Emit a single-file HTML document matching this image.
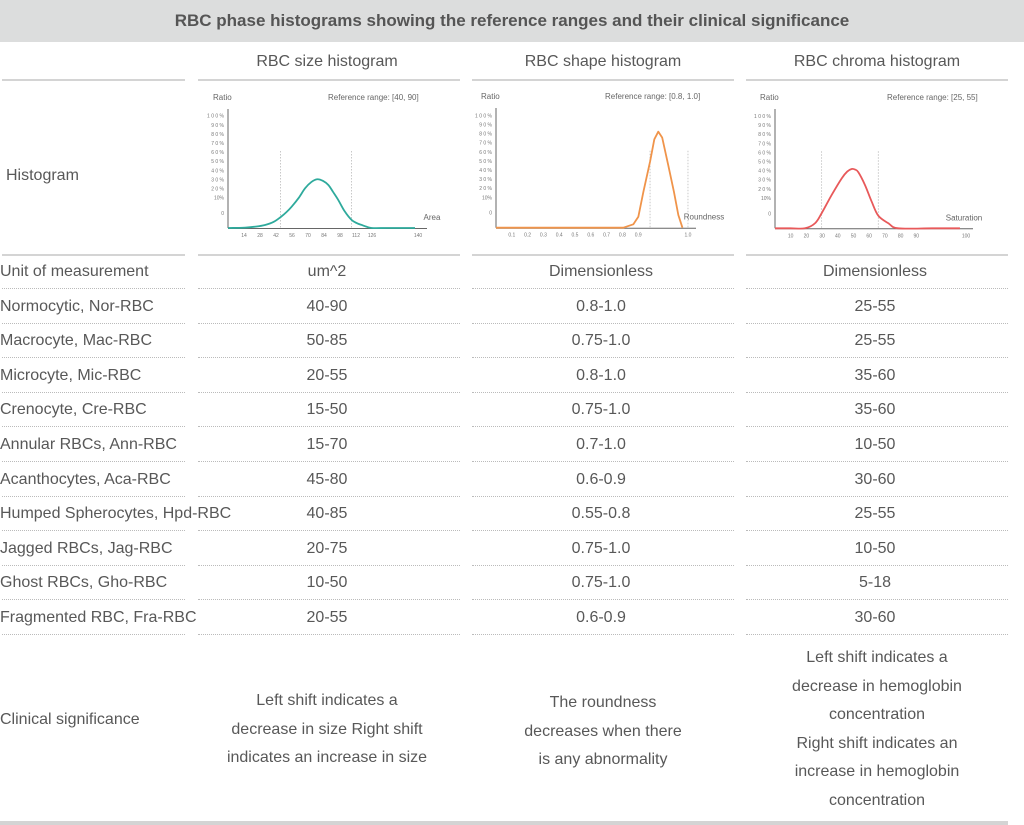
<!DOCTYPE html>
<html><head><meta charset="utf-8">
<style>
body{margin:0;background:#fff;}
#page{position:relative;width:1024px;height:825px;overflow:hidden;font-family:"Liberation Sans",sans-serif;color:#585858;}
.t{position:absolute;font-size:16px;white-space:nowrap;line-height:20px;}
.c{text-align:center;}
.rule{position:absolute;height:0;border-top:1px dotted #bbb;}
.solid{position:absolute;height:2px;background:#d4d4d4;}
.clin{position:absolute;font-size:16px;text-align:center;line-height:28.6px;}
</style></head><body>
<div id="page">
<div style="position:absolute;left:0;top:0;width:1024px;height:42px;background:#dcdddd;"></div>
<div class="t c" style="left:0;top:11px;width:1024px;font-size:17px;font-weight:bold;color:#555;">RBC phase histograms showing the reference ranges and their clinical significance</div>

<div class="t c" style="left:196px;top:52px;width:262px;font-size:16px;">RBC size histogram</div>
<div class="t c" style="left:472px;top:52px;width:262px;font-size:16px;">RBC shape histogram</div>
<div class="t c" style="left:746px;top:52px;width:262px;font-size:16px;">RBC chroma histogram</div>

<div class="solid" style="left:2px;top:79px;width:183px;"></div>
<div class="solid" style="left:198px;top:79px;width:262px;"></div>
<div class="solid" style="left:472px;top:79px;width:262px;"></div>
<div class="solid" style="left:746px;top:79px;width:262px;"></div>

<div class="t" style="left:6px;top:166px;">Histogram</div>

<div class="solid" style="left:2px;top:254px;width:183px;"></div>
<div class="solid" style="left:198px;top:254px;width:262px;"></div>
<div class="solid" style="left:472px;top:254px;width:262px;"></div>
<div class="solid" style="left:746px;top:254px;width:262px;"></div>

<div id="rows"></div>

<div class="t" style="left:0;top:710px;">Clinical significance</div>
<div class="clin" style="left:196px;top:687px;width:262px;">Left shift indicates a<br>decrease in size Right shift<br>indicates an increase in size</div>
<div class="clin" style="left:472px;top:689px;width:262px;">The roundness<br>decreases when there<br>is any abnormality</div>
<div class="clin" style="left:746px;top:644px;width:262px;">Left shift indicates a<br>decrease in hemoglobin<br>concentration<br>Right shift indicates an<br>increase in hemoglobin<br>concentration</div>
<div style="position:absolute;left:0;top:821px;width:1008px;height:4px;background:#d4d4d4;"></div>

<svg id="charts" width="1024" height="825" style="position:absolute;left:0;top:0;" font-family="Liberation Sans, sans-serif"></svg>
</div>
<script>
// ---- table data ----
const rowLabels=["Unit of measurement","Normocytic, Nor-RBC","Macrocyte, Mac-RBC","Microcyte, Mic-RBC","Crenocyte, Cre-RBC","Annular RBCs, Ann-RBC","Acanthocytes, Aca-RBC","Humped Spherocytes, Hpd-RBC","Jagged RBCs, Jag-RBC","Ghost RBCs, Gho-RBC","Fragmented RBC, Fra-RBC"];
const sizeVals=["um^2","40-90","50-85","20-55","15-50","15-70","45-80","40-85","20-75","10-50","20-55"];
const shapeVals=["Dimensionless","0.8-1.0","0.75-1.0","0.8-1.0","0.75-1.0","0.7-1.0","0.6-0.9","0.55-0.8","0.75-1.0","0.75-1.0","0.6-0.9"];
const chromaVals=["Dimensionless","25-55","25-55","35-60","35-60","10-50","30-60","25-55","10-50","5-18","30-60"];

// ---- chart data ----
const sizeX=[0,8,15,24,32.4,40,46.4,51,55.7,62,67.4,73,78.1,83,87.8,92,96.5,102,108.2,113,117,121,125.7,140,163.6];
const sizeY=[0,0.1,0.3,1.2,2.7,5.5,10,14,19,27,35.3,41,43.4,42,38.3,32,24.9,15,7.1,4.2,2.7,1.2,0,0,0];
const sizeTicks=[14,28,42,56,70,84,98,112,126];
const sizeRef=[46,108];
const shapeX=[0,0.806,0.869,0.901,0.933,0.975,1.002,1.027,1.052,1.090,1.126,1.154,1.180];
const shapeY=[0,0,3,9.8,32.1,58.8,78.7,85.5,80.2,55.8,32.1,11.3,0];
const shapeTicks=[0.1,0.2,0.3,0.4,0.5,0.6,0.7,0.8,0.9];
const shapeRef=[0.975,1.215];
const chromaX=[0,10,19.1,25.5,29.7,36.1,42.5,46,48.8,51,53.1,57.3,61.6,65.8,72.2,78.5,100,117.8];
const chromaY=[0,0,0,4.5,13.4,29.7,44.5,50.5,52.8,52.3,49.9,38.6,23.7,11.2,4.5,0,0,0];
const chromaTicks=[10,20,30,40,50,60,70,80,90];
const chromaRef=[29.7,65.8];
const yTickLabels=["1 0 0 %","9 0 %","8 0 %","7 0 %","6 0 %","5 0 %","4 0 %","3 0 %","2 0 %","10%","0"];
const yTickVals=[100,90,80,70,60,50,40,30,20,10,0];

// rows
const rowsEl=document.getElementById('rows');
const colL=[198,472,746];
rowLabels.forEach((lab,i)=>{
  const cy=272+i*34.6;
  const d=document.createElement('div');d.className='t';d.style.left='0px';d.style.top=(cy-10)+'px';d.textContent=lab;
  
  
  rowsEl.appendChild(d);
  [sizeVals,shapeVals,chromaVals].forEach((arr,j)=>{
    const e=document.createElement('div');e.className='t c';e.style.left=(colL[j]-2)+'px';e.style.width='262px';e.style.top=(cy-10)+'px';e.textContent=arr[i];
    
    
    rowsEl.appendChild(e);
  });
  [[2,183]].concat(colL.map(x=>[x,262])).forEach(p=>{
    const r=document.createElement('div');r.className='rule';r.style.left=p[0]+'px';r.style.width=p[1]+'px';r.style.top=(cy+16)+'px';
    
    
    rowsEl.appendChild(r);
  });
});

const svg=document.getElementById('charts');const NS='http://www.w3.org/2000/svg';
function mk(tag,attrs,parent,name){const e=document.createElementNS(NS,tag);for(const k in attrs)e.setAttribute(k,attrs[k]);
  
  
  parent.appendChild(e);return e;}
function smooth(pts){let d='M'+pts[0][0]+','+pts[0][1];
  for(let i=0;i<pts.length-1;i++){const p0=pts[i-1]||pts[i],p1=pts[i],p2=pts[i+1],p3=pts[i+2]||p2;
    d+=' C'+(p1[0]+(p2[0]-p0[0])/6)+','+(p1[1]+(p2[1]-p0[1])/6)+' '+(p2[0]-(p3[0]-p1[0])/6)+','+(p2[1]-(p3[1]-p1[1])/6)+' '+p2[0]+','+p2[1];}
  return d;}
function chart(o){
  const g=mk('g',{},svg,o.name);
  const x=v=>o.x0+o.kx*v, y=v=>o.base-1.123*v, yl=v=>v===0?o.base-15:o.base-21.3-0.91*v;
  mk('text',{x:o.x0-15,y:o.top+5,'font-size':8,fill:'#666'},g,'y-axis-title').textContent='Ratio';
  mk('text',{x:o.refX,y:o.top+5,'font-size':8,fill:'#666'},g,'reference-range-label').textContent=o.ref;
  yTickLabels.forEach((t,i)=>{mk('text',{x:o.x0-4,y:yl(yTickVals[i])+2,'font-size':5,fill:'#777','text-anchor':'end'},g,'y-tick-label').textContent=t;});
  mk('line',{x1:o.x0,y1:o.top+14,x2:o.x0,y2:o.base,stroke:'#666','stroke-width':1},g,'y-axis');
  mk('line',{x1:o.x0,y1:o.base+0.5,x2:o.xEnd,y2:o.base+0.5,stroke:'#666','stroke-width':1},g,'x-axis');
  o.refs.forEach(r=>mk('line',{x1:x(r),y1:o.base-77,x2:x(r),y2:o.base,stroke:'#bbb','stroke-width':0.8,'stroke-dasharray':'1.5,1.5'},g,'reference-line'));
  o.ticks.forEach(t=>mk('text',{x:x(t),y:o.base+9,'font-size':5,fill:'#777','text-anchor':'middle'},g,'x-tick-label').textContent=t);
  mk('text',{x:o.lastX,y:o.base+9,'font-size':5,fill:'#777','text-anchor':'middle'},g,'x-tick-label').textContent=o.last;
  mk('text',{x:o.titleX,y:o.base-8,'font-size':8,fill:'#666','text-anchor':'middle'},g,'x-axis-title').textContent=o.xTitle;
  const pts=o.xs.map((v,i)=>[x(v),y(o.ys[i])]);
  mk('path',{d:o.poly?'M'+pts.map(p=>p.join(',')).join(' L'):smooth(pts),fill:'none',stroke:o.color,'stroke-width':1.8,'stroke-linejoin':'round'},g,'histogram-curve');
}
chart({name:'size-histogram',x0:228,kx:1.143,base:228,top:95,xEnd:427,refX:328,ref:'Reference range: [40, 90]',ticks:sizeTicks,last:'140',lastX:418,xTitle:'Area',titleX:432,refs:sizeRef,xs:sizeX,ys:sizeY,color:'#2eaa9c'});
chart({name:'shape-histogram',x0:496,kx:158,base:227.7,top:94,xEnd:696,refX:605,ref:'Reference range: [0.8, 1.0]',ticks:shapeTicks,last:'1.0',lastX:688,xTitle:'Roundness',titleX:704,refs:shapeRef,xs:shapeX,ys:shapeY,color:'#f0944a',poly:true});
chart({name:'chroma-histogram',x0:775,kx:1.57,base:228.3,top:95,xEnd:973,refX:887,ref:'Reference range: [25, 55]',ticks:chromaTicks,last:'100',lastX:966,xTitle:'Saturation',titleX:964,refs:chromaRef,xs:chromaX,ys:chromaY,color:'#e8595a'});
</script>
</body></html>
